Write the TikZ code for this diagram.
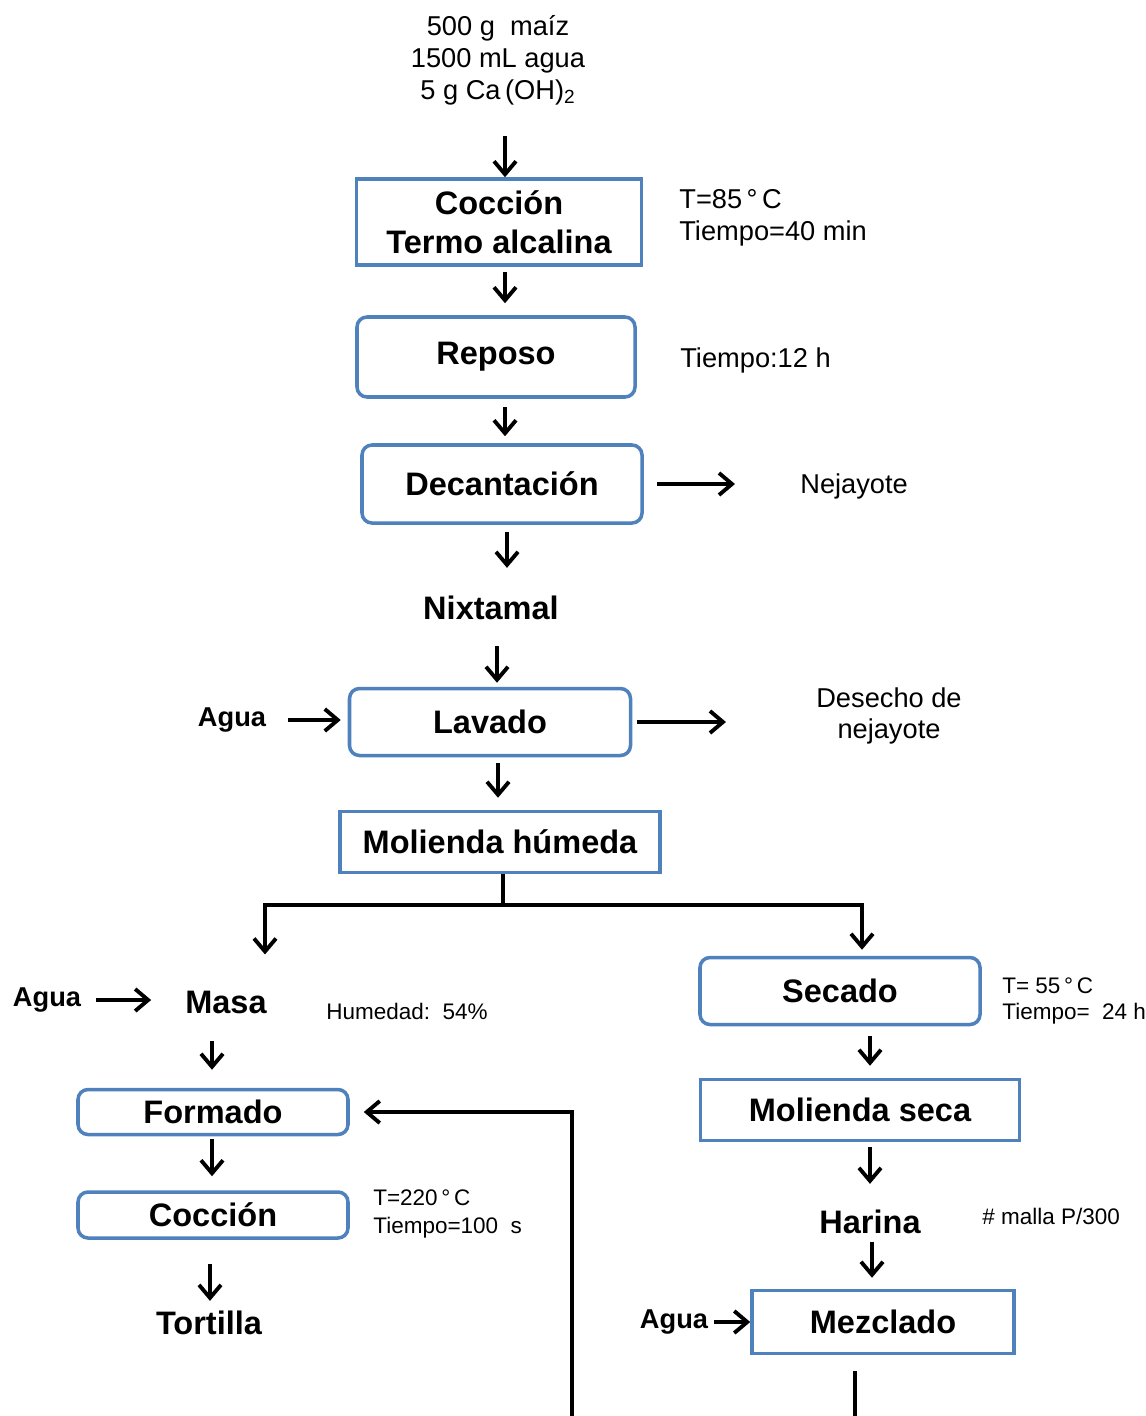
\documentclass[tikz,border=0pt]{standalone}
\usepackage{fontspec}
\setmainfont{Liberation Sans}
\usepackage{xcolor}
\usetikzlibrary{arrows.meta,positioning,calc}
\definecolor{BoxBlue}{HTML}{4F81BD}

\begin{document}
\begin{tikzpicture}[x=0.2mm, y=-0.2mm,
    proc/.style={draw=BoxBlue, line width=2pt, rounded corners=2mm, fill=white, font=\fontsize{18.5}{22}\selectfont\bfseries, align=center, inner sep=0pt},
    sqproc/.style={proc, sharp corners},
    lbl/.style={font=\fontsize{18.5}{22}\selectfont\bfseries},
    agua/.style={font=\fontsize{15.5}{18}\selectfont\bfseries},
    note/.style={font=\fontsize{15.5}{18}\selectfont, align=left, anchor=west, inner sep=0pt},
    smallnote/.style={font=\fontsize{12.8}{15}\selectfont, align=left, anchor=west, inner sep=0pt},
    arr/.style={-{Straight Barb[length=2.6mm,width=4.4mm,line width=2.2pt]}, line width=2.2pt},
    wire/.style={line width=2.2pt}
  ]
    \useasboundingbox (0,0) rectangle (1146,1416);

    % central line
    \node[font=\fontsize{15.5}{18.1}\selectfont, align=center] (feed) at (498,60) {500 g~~maíz\\1500 mL agua\\5 g Ca\,(OH)\textsubscript{2}};
    \node[sqproc, minimum width=57mm, minimum height=17.2mm] (coccion) at (499,222) {Cocción\\Termo alcalina};
    \node[note, font=\fontsize{15.5}{18.1}\selectfont] (tcoc) at (679,218) {T=85\,°\,C\\Tiempo=40 min};
    \node[proc, minimum width=55.6mm, minimum height=16mm] (reposo) at (496,357) {Reposo};
    \node[note] (trep) at (680,360) {Tiempo:12 h};
    \node[proc, minimum width=56mm, minimum height=15.6mm] (decant) at (502,484) {Decantación};
    \node[note] (nejay) at (800,486) {Nejayote};
    \node[lbl] (nixt) at (491,608) {Nixtamal};
    \node[proc, minimum width=56.2mm, minimum height=13.4mm] (lavado) at (490,722) {Lavado};
    \node[agua] (agua1) at (232,720) {Agua};
    \node[note, font=\fontsize{15.5}{17.6}\selectfont, align=center, anchor=center] (desecho) at (889,716) {Desecho de\\nejayote};
    \node[sqproc, minimum width=64mm, minimum height=12.2mm] (molhum) at (500,842) {Molienda húmeda};

    % left branch
    \node[lbl] (masa) at (226,1002) {Masa};
    \node[agua] (agua2) at (47,1000) {Agua};
    \node[smallnote] (hum) at (326,1011) {Humedad:~~54\%};
    \node[proc, minimum width=54mm, minimum height=9mm] (formado) at (213,1112) {Formado};
    \node[proc, minimum width=54mm, minimum height=9.2mm] (coccion2) at (213,1215) {Cocción};
    \node[smallnote, font=\fontsize{12.8}{15.9}\selectfont] (tcoc2) at (373,1214) {T=220\,°\,C\\Tiempo=100~~s};
    \node[lbl] (tortilla) at (209,1323) {Tortilla};

    % right branch
    \node[proc, minimum width=56mm, minimum height=13.4mm] (secado) at (840,991) {Secado};
    \node[smallnote, font=\fontsize{12.8}{14.7}\selectfont] (tsec) at (1002,1001) {T=~55\,°\,C\\Tiempo=~~24 h};
    \node[sqproc, minimum width=63.8mm, minimum height=12.2mm] (molseca) at (860,1110) {Molienda seca};
    \node[lbl] (harina) at (870,1222) {Harina};
    \node[smallnote] (malla) at (982,1216) {\#~malla P/300};
    \node[sqproc, minimum width=52.4mm, minimum height=12.6mm] (mezclado) at (883,1322) {Mezclado};
    \node[agua] (agua3) at (674,1322) {Agua};

    \coordinate (split) at (503,905);
    \coordinate (mzend) at (855,1416);
    \coordinate (fbstart) at (572,1416);

    % connectors
    \draw[arr, shorten <=5mm] (505,0 |- feed.south) -- (505,0 |- coccion.north);
    \draw[arr, shorten <=1mm, shorten >=2.4mm] (505,0 |- coccion.south) -- (505,0 |- reposo.north);
    \draw[arr, shorten <=1.6mm, shorten >=1.4mm] (505,0 |- reposo.south) -- (505,0 |- decant.north);
    \draw[arr, shorten <=2.6mm, shorten >=13mm] (decant.east) -- (decant.east -| nejay.west);
    \draw[arr, shorten <=1.4mm, shorten >=4.4mm] (507,0 |- decant.south) -- (507,0 |- nixt.north);
    \draw[arr, shorten <=4mm, shorten >=0.8mm] (497,0 |- nixt.south) -- (497,0 |- lavado.north);
    \draw[arr, shorten <=3.2mm, shorten >=1.4mm] (agua1.east) -- (agua1.east -| lavado.west);
    \draw[arr, shorten <=1mm, shorten >=18mm] (lavado.east) -- (lavado.east -| desecho.west);
    \draw[arr, shorten <=1.2mm, shorten >=2.4mm] (498,0 |- lavado.south) -- (498,0 |- molhum.north);
    \draw[wire] (503,0 |- molhum.south) -- (split);
    \draw[arr, shorten >=6mm] (split) -| (265,0 |- masa.north);
    \draw[arr, shorten >=1.2mm] (split) -| (862,0 |- secado.north);

    \draw[arr, shorten <=1.8mm, shorten >=5.6mm] (agua2.east) -- (agua2.east -| masa.west);
    \draw[arr, shorten <=4.2mm, shorten >=3.6mm] (212,0 |- masa.south) -- (212,0 |- formado.north);
    \draw[arr, shorten <=0.6mm, shorten >=2.8mm] (212,0 |- formado.south) -- (212,0 |- coccion2.north);
    \draw[arr, shorten <=4.8mm, shorten >=0.8mm] (210,0 |- coccion2.south) -- (210,0 |- tortilla.north);

    \draw[arr, shorten <=2mm, shorten >=2.4mm] (870,0 |- secado.south) -- (870,0 |- molseca.north);
    \draw[arr, shorten <=1mm, shorten >=4mm] (870,0 |- molseca.south) -- (870,0 |- harina.north);
    \draw[arr, shorten <=0.4mm, shorten >=2.2mm] (872,0 |- harina.south) -- (872,0 |- mezclado.north);
    \draw[arr] (agua3.east) -- (mezclado.west);
    \draw[wire, shorten <=3.2mm] (855,0 |- mezclado.south) -- (mzend);
    \draw[arr, shorten >=2.8mm] (fbstart) |- (formado.east);
\end{tikzpicture}
\end{document}
